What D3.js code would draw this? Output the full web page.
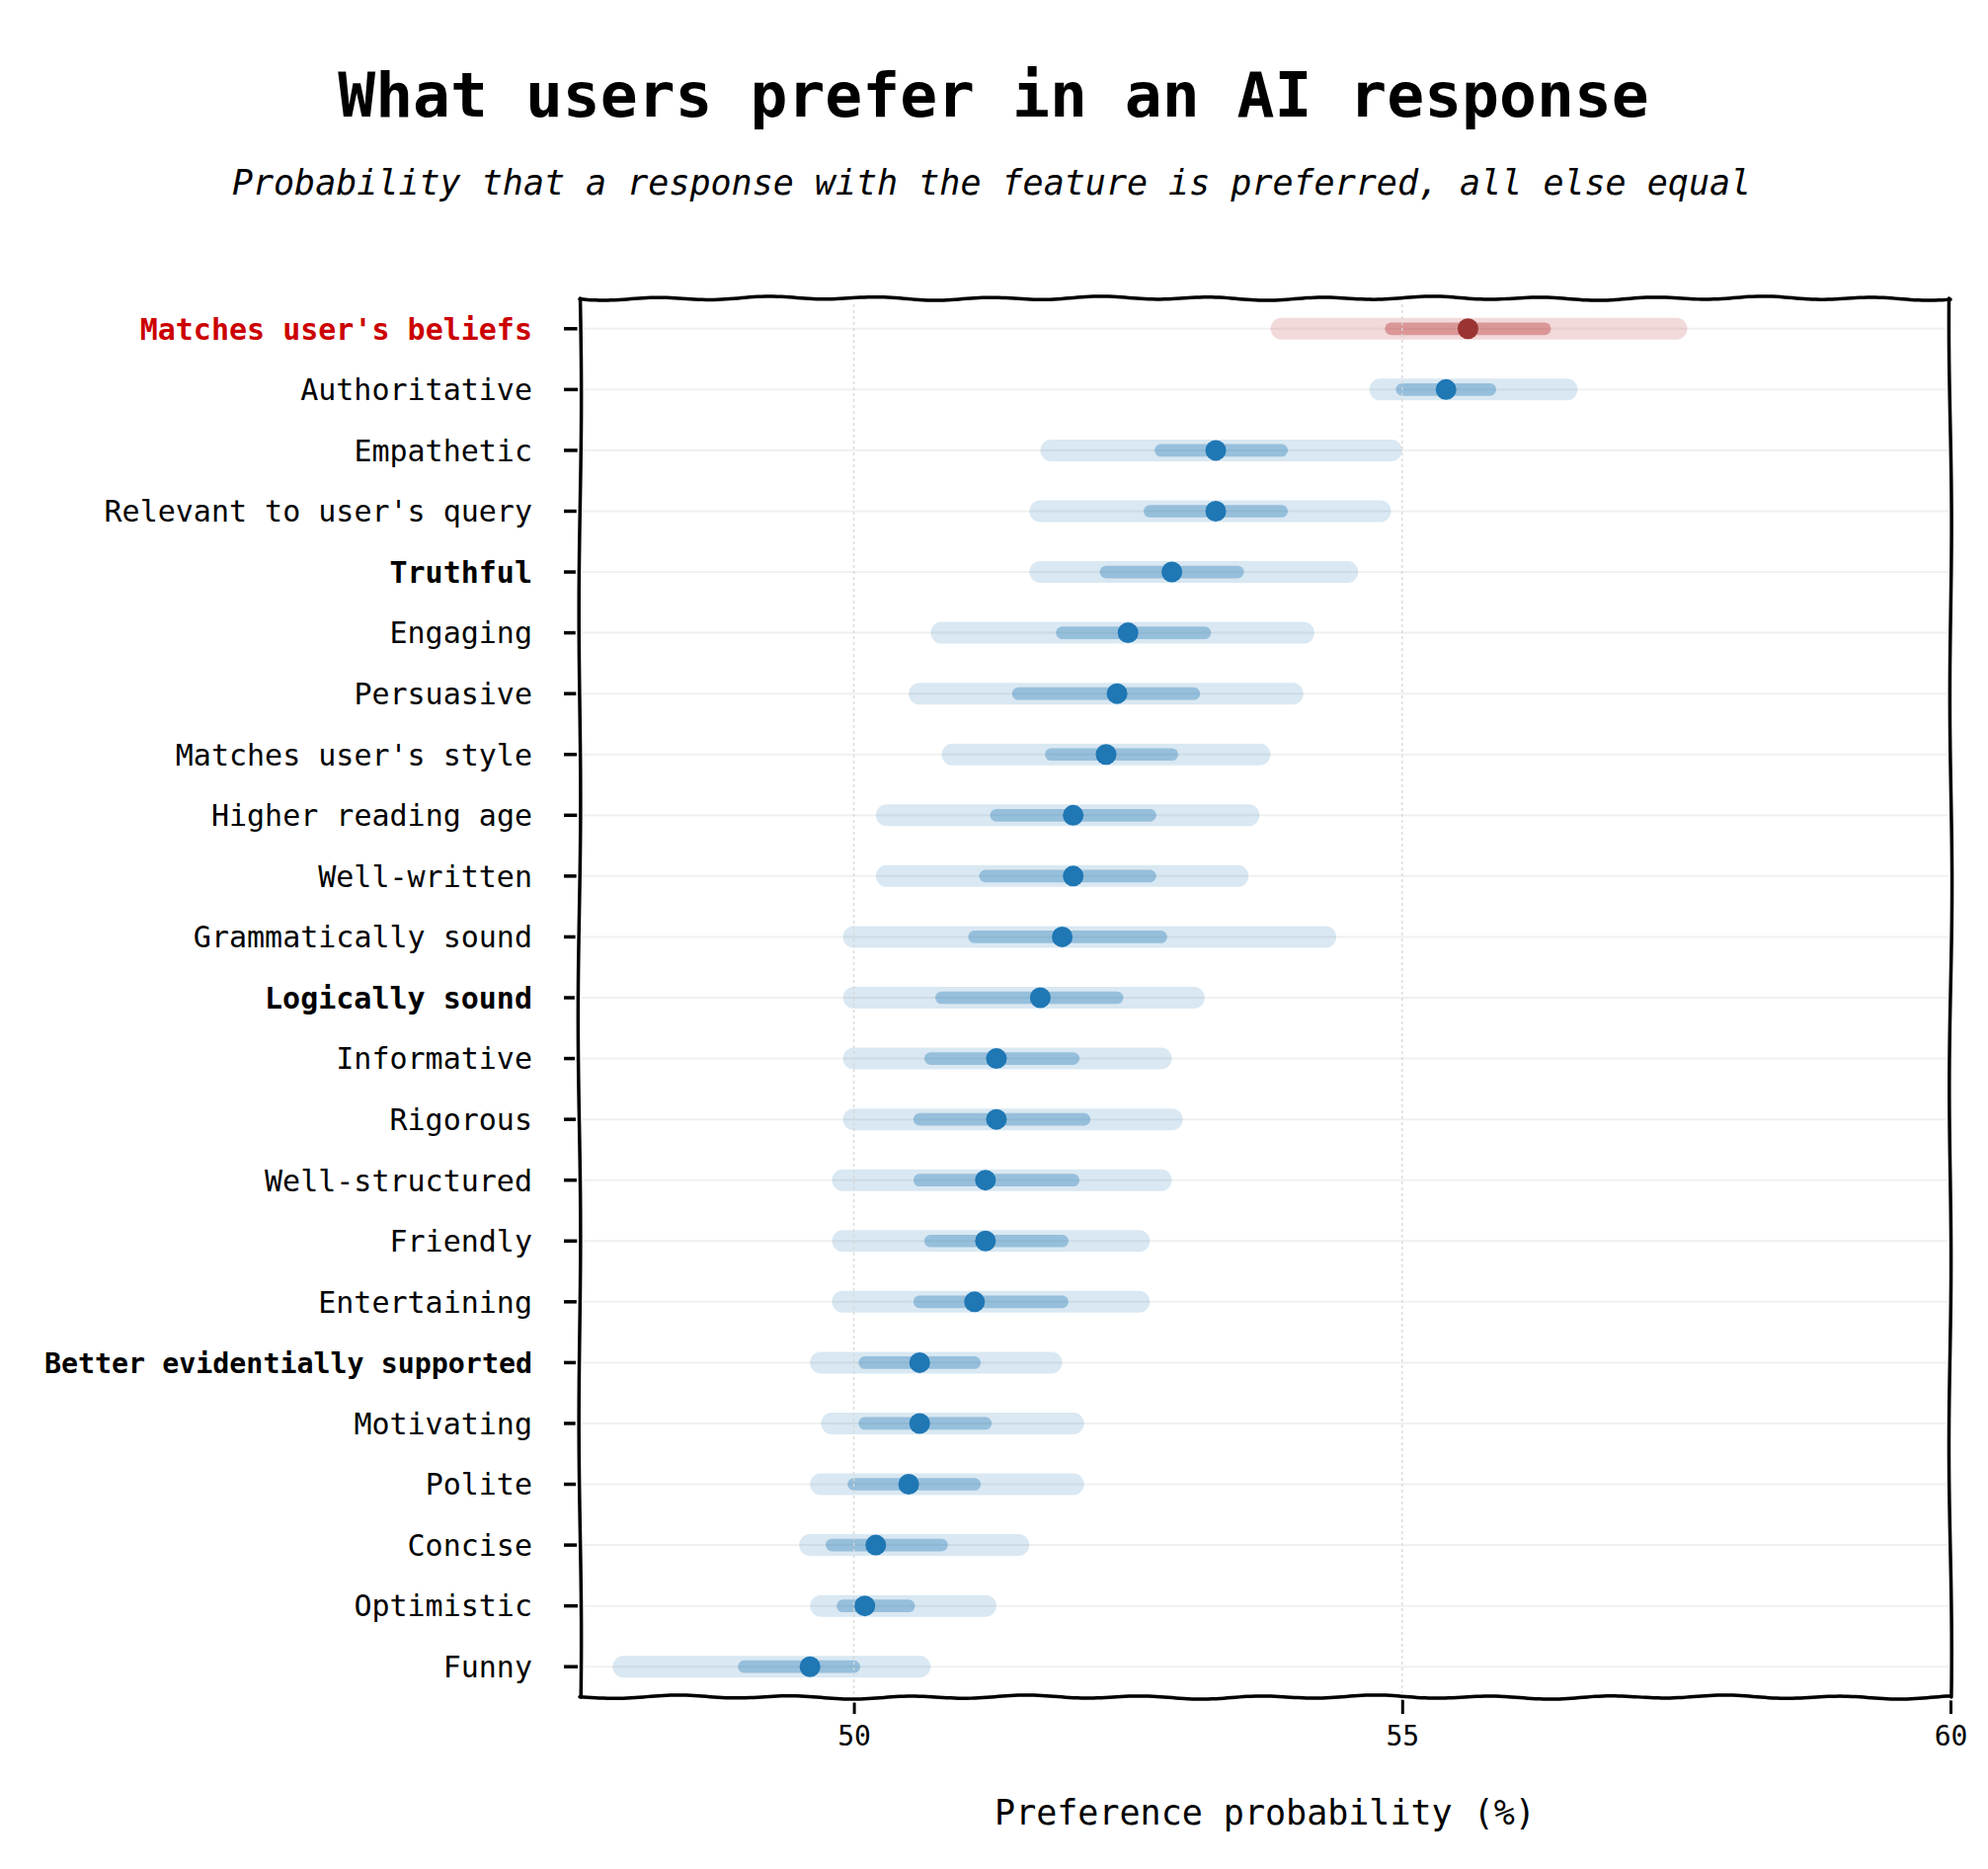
<!DOCTYPE html>
<html lang="en">
<head>
<meta charset="UTF-8">
<title>What users prefer in an AI response</title>
<script src="https://cdn.jsdelivr.net/npm/d3@7"></script>
<style>
  body { margin: 0; background: #fff; }
  svg { display: block; font-family: "DejaVu Sans Mono", monospace; }
</style>
</head>
<body>
<div id="chart"></div>
<script>
// feature rows, top to bottom
const features = [
  "Matches user's beliefs", "Authoritative", "Empathetic", "Relevant to user's query",
  "Truthful", "Engaging", "Persuasive", "Matches user's style", "Higher reading age",
  "Well-written", "Grammatically sound", "Logically sound", "Informative", "Rigorous",
  "Well-structured", "Friendly", "Entertaining", "Better evidentially supported",
  "Motivating", "Polite", "Concise", "Optimistic", "Funny"
];
// point estimate (%)
const estimate = [55.6, 55.4, 53.3, 53.3, 52.9, 52.5, 52.4, 52.3, 52.0, 52.0, 51.9, 51.7,
  51.3, 51.3, 51.2, 51.2, 51.1, 50.6, 50.6, 50.5, 50.2, 50.1, 49.6];
// wide interval
const lo95 = [53.9, 54.8, 51.8, 51.7, 51.7, 50.8, 50.6, 50.9, 50.3, 50.3, 50.0, 50.0,
  50.0, 50.0, 49.9, 49.9, 49.9, 49.7, 49.8, 49.7, 49.6, 49.7, 47.9];
const hi95 = [57.5, 56.5, 54.9, 54.8, 54.5, 54.1, 54.0, 53.7, 53.6, 53.5, 54.3, 53.1,
  52.8, 52.9, 52.8, 52.6, 52.6, 51.8, 52.0, 52.0, 51.5, 51.2, 50.6];
// narrow interval
const lo50 = [54.9, 55.0, 52.8, 52.7, 52.3, 51.9, 51.5, 51.8, 51.3, 51.2, 51.1, 50.8,
  50.7, 50.6, 50.6, 50.7, 50.6, 50.1, 50.1, 50.0, 49.8, 49.9, 49.0];
const hi50 = [56.3, 55.8, 53.9, 53.9, 53.5, 53.2, 53.1, 52.9, 52.7, 52.7, 52.8, 52.4,
  52.0, 52.1, 52.0, 51.9, 51.9, 51.1, 51.2, 51.1, 50.8, 50.5, 50.0];
const xTicks = [50, 55, 60];
const xDomain = [47.5, 60];
const boldFeatures = ["Truthful", "Logically sound", "Better evidentially supported"];
const flaggedFeature = "Matches user's beliefs";

const rows = features.map((f, i) => ({
  name: f, est: estimate[i], lo95: lo95[i], hi95: hi95[i], lo50: lo50[i], hi50: hi50[i]
}));

const width = 2013, height = 1892;
const margin = {top: 302, right: 38, bottom: 174, left: 587};
const plotW = width - margin.left - margin.right;
const plotH = height - margin.top - margin.bottom;

const blue = "#1f77b4", red = "#b22222";

const svg = d3.select("#chart").append("svg")
  .attr("width", width)
  .attr("height", height);

svg.append("text")
  .attr("x", 1006).attr("y", 118)
  .attr("text-anchor", "middle")
  .attr("font-size", 63).attr("font-weight", "bold")
  .text("What users prefer in an AI response");

svg.append("text")
  .attr("x", 1004).attr("y", 197)
  .attr("text-anchor", "middle")
  .attr("font-size", 35).attr("font-style", "italic")
  .text("Probability that a response with the feature is preferred, all else equal");

const g = svg.append("g").attr("transform", `translate(${margin.left},${margin.top})`);

const x = d3.scaleLinear().domain(xDomain).range([0, plotW]);
const y = d3.scaleBand().domain(features).range([0, plotH]);
const cy = d => y(d) + y.bandwidth() / 2;

// grid
g.selectAll(".hgrid").data(features).enter().append("line")
  .attr("x1", 0).attr("x2", plotW)
  .attr("y1", cy).attr("y2", cy)
  .attr("stroke", "#f0f0f0").attr("stroke-width", 2);

// intervals
const colorOf = d => d.name === flaggedFeature ? red : blue;
g.selectAll(".wide").data(rows).enter().append("line")
  .attr("x1", d => x(d.lo95)).attr("x2", d => x(d.hi95))
  .attr("y1", d => cy(d.name)).attr("y2", d => cy(d.name))
  .attr("stroke", colorOf).attr("stroke-opacity", 0.17)
  .attr("stroke-width", 22).attr("stroke-linecap", "round");

g.selectAll(".narrow").data(rows).enter().append("line")
  .attr("x1", d => x(d.lo50)).attr("x2", d => x(d.hi50))
  .attr("y1", d => cy(d.name)).attr("y2", d => cy(d.name))
  .attr("stroke", colorOf).attr("stroke-opacity", 0.36)
  .attr("stroke-width", 12.7).attr("stroke-linecap", "round");

// vertical dotted grid on top
g.selectAll(".vgrid").data(xTicks.filter(t => t < xDomain[1])).enter().append("line")
  .attr("x1", x).attr("x2", x)
  .attr("y1", 0).attr("y2", plotH)
  .attr("stroke", "#d8d8d8").attr("stroke-width", 1.3)
  .attr("stroke-dasharray", "3,3");

g.selectAll(".pt").data(rows).enter().append("circle")
  .attr("cx", d => x(d.est)).attr("cy", d => cy(d.name))
  .attr("r", 10.5)
  .attr("fill", d => d.name === flaggedFeature ? "#9b3333" : blue);

// axes
const yAxis = g.append("g")
  .call(d3.axisLeft(y).tickSize(16).tickPadding(32));
yAxis.select(".domain").remove();
yAxis.selectAll(".tick line").attr("stroke", "#000").attr("stroke-width", 3.5);
yAxis.selectAll(".tick text")
  .attr("font-family", "DejaVu Sans Mono")
  .attr("font-size", d => d.length > 25 ? 28.3 : 30)
  .attr("dy", "0.36em")
  .attr("fill", d => d === flaggedFeature ? "#cc0000" : "#000")
  .attr("font-weight", d => (d === flaggedFeature || boldFeatures.includes(d)) ? "bold" : "normal");

const xAxis = g.append("g")
  .attr("transform", `translate(0,${plotH})`)
  .call(d3.axisBottom(x).tickValues(xTicks).tickFormat(d3.format("d")).tickSize(17).tickPadding(12));
xAxis.select(".domain").remove();
xAxis.selectAll(".tick line").attr("stroke", "#000").attr("stroke-width", 3);
xAxis.selectAll(".tick text")
  .attr("font-family", "DejaVu Sans Mono")
  .attr("font-size", 28).attr("fill", "#000");

g.append("text")
  .attr("x", plotW / 2).attr("y", plotH + 129)
  .attr("text-anchor", "middle")
  .attr("font-size", 35)
  .text("Preference probability (%)");

// hand-drawn frame
function wobble(x0, y0, x1, y1, amp, wave, phase) {
  const len = Math.hypot(x1 - x0, y1 - y0);
  const n = Math.ceil(len / 4);
  const nx = -(y1 - y0) / len, ny = (x1 - x0) / len;
  const pts = d3.range(n + 1).map(i => {
    const t = i / n;
    const off = amp * Math.sin(2 * Math.PI * t * len / wave + phase)
      + amp * 0.5 * Math.sin(2 * Math.PI * t * len / (wave * 2.9) + phase * 1.7);
    return [x0 + (x1 - x0) * t + nx * off, y0 + (y1 - y0) * t + ny * off];
  });
  return d3.line()(pts);
}
const sides = [
  [0, 0, plotW, 0, 1.4, 112, 0.3],
  [plotW, 0, plotW, plotH, 1.1, 380, 1.1],
  [plotW, plotH, 0, plotH, 1.4, 118, 2.0],
  [0, plotH, 0, 0, 1.1, 420, 0.7]
];
const frame = g.append("g");
sides.forEach(s => {
  frame.append("path").attr("d", wobble(...s))
    .attr("fill", "none").attr("stroke", "#fff").attr("stroke-width", 7)
    .attr("stroke-linecap", "round");
});
sides.forEach(s => {
  frame.append("path").attr("d", wobble(...s))
    .attr("fill", "none").attr("stroke", "#000").attr("stroke-width", 3.5)
    .attr("stroke-linecap", "round");
});
</script>
</body>
</html>
